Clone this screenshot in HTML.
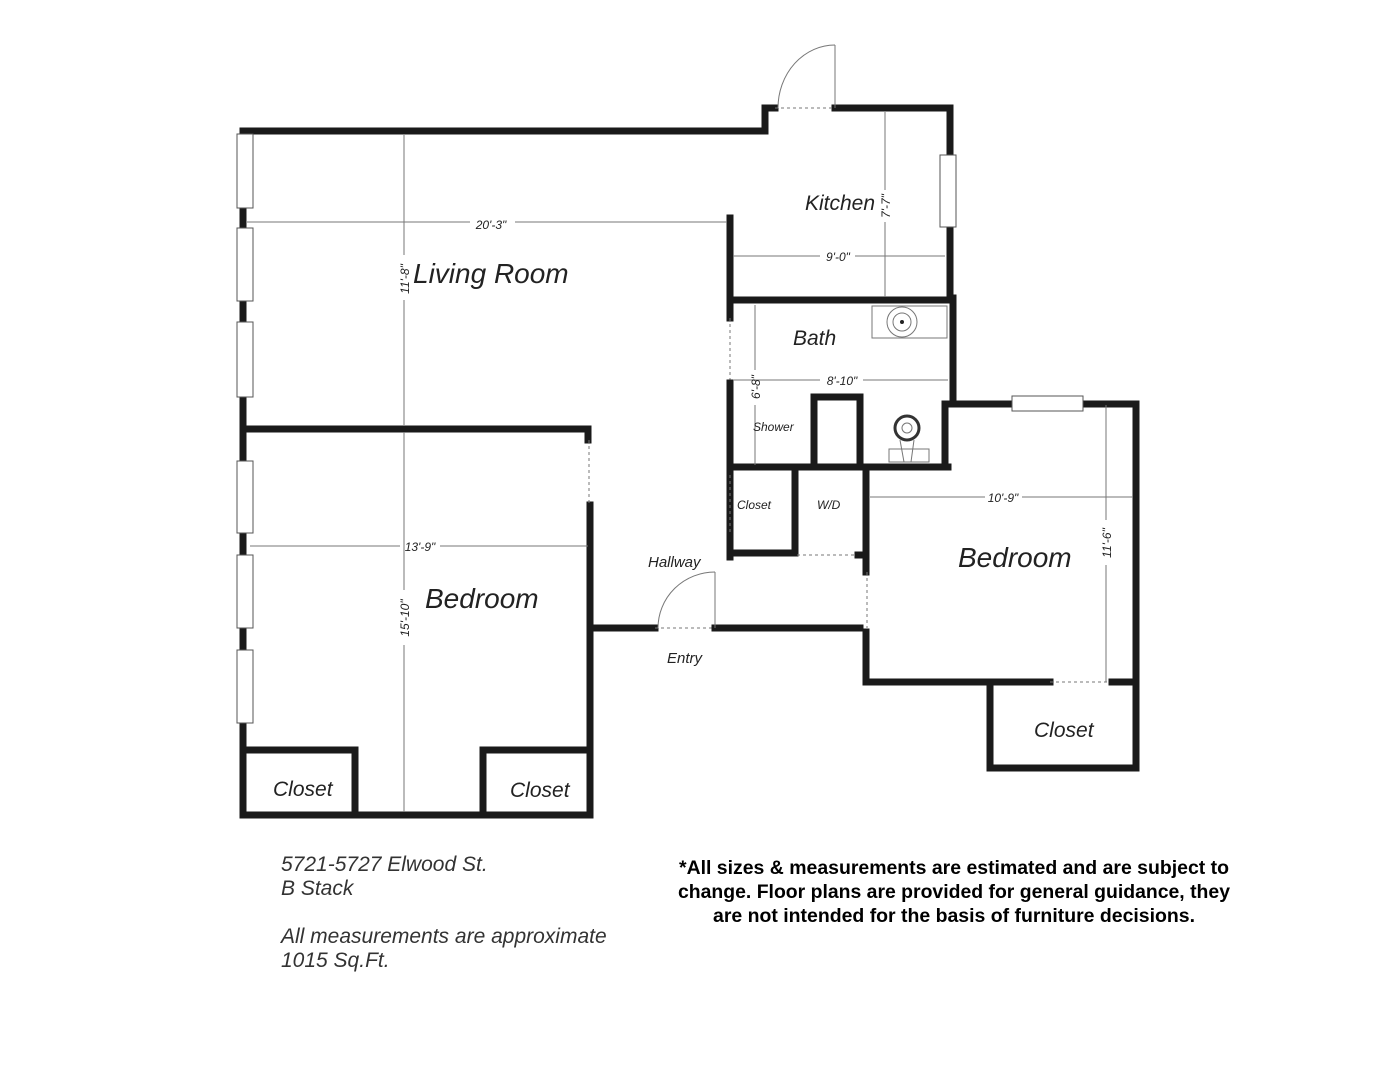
<!DOCTYPE html>
<html><head><meta charset="utf-8"><style>
html,body{margin:0;padding:0;background:#fff;}
svg{display:block;}
.w{stroke:#1a1a1a;stroke-width:7;fill:none;stroke-linecap:square;}
.d{stroke:#777;stroke-width:1;fill:none;}
.ds{stroke:#777;stroke-width:1;fill:none;stroke-dasharray:3,3;}
.win{fill:#fff;stroke:#555;stroke-width:1;}
text{font-family:"Liberation Sans",Arial,sans-serif;font-style:italic;fill:#222;}
.dim{font-size:12px;}
.sm{font-size:13px;}
.rm{font-size:28px;}
.md{font-size:21px;}
.info{font-size:21px;fill:#333;}
.b{font-family:"Liberation Sans Narrow","Liberation Sans",sans-serif;font-style:normal;font-weight:bold;font-size:19px;fill:#000;}
</style></head><body>
<svg width="1398" height="1080" viewBox="0 0 1398 1080" xmlns="http://www.w3.org/2000/svg">
<polyline class="w" points="243,131 765,131 765,108 775,108"/>
<polyline class="w" points="835,108 950,108 950,300"/>
<line class="ds" x1="775" y1="108" x2="835" y2="108"/>
<line class="d" x1="835" y1="45" x2="835" y2="108"/>
<path class="d" d="M835,45 A57,63 0 0 0 778,108"/>
<line class="w" x1="243" y1="131" x2="243" y2="815"/>
<polyline class="w" points="243,815 590,815 590,505"/>
<line class="w" x1="588" y1="429" x2="588" y2="440"/>
<line class="ds" x1="589" y1="440" x2="589" y2="505"/>
<line class="w" x1="243" y1="429" x2="588" y2="429"/>
<polyline class="w" points="243,750 355,750 355,815"/>
<polyline class="w" points="590,750 483,750 483,815"/>
<line class="w" x1="590" y1="628" x2="655" y2="628"/>
<line class="ds" x1="655" y1="628" x2="715" y2="628"/>
<line class="w" x1="715" y1="628" x2="860" y2="628"/>
<line class="d" x1="715" y1="572" x2="715" y2="628"/>
<path class="d" d="M715,572 A57,56 0 0 0 658,628"/>
<line class="w" x1="730" y1="218" x2="730" y2="318"/>
<line class="ds" x1="730" y1="318" x2="730" y2="383"/>
<line class="w" x1="730" y1="300" x2="953" y2="300"/>
<line class="w" x1="953" y1="298" x2="953" y2="404"/>
<line class="w" x1="730" y1="383" x2="730" y2="557"/>
<line class="w" x1="730" y1="467" x2="948" y2="467"/>
<line class="w" x1="945" y1="404" x2="945" y2="467"/>
<polyline class="w" points="814,467 814,397 860,397 860,467"/>
<line class="ds" x1="730" y1="475" x2="730" y2="538"/>
<polyline class="w" points="730,538 730,553 795,553 795,470"/>
<line class="ds" x1="797" y1="555" x2="858" y2="555"/>
<line class="w" x1="858" y1="555" x2="866" y2="555"/>
<line class="w" x1="948" y1="404" x2="1136" y2="404"/>
<line class="w" x1="1136" y1="404" x2="1136" y2="768"/>
<line class="w" x1="866" y1="470" x2="866" y2="572"/>
<line class="ds" x1="867" y1="572" x2="867" y2="628"/>
<polyline class="w" points="866,632 866,682 1050,682"/>
<line class="ds" x1="1050" y1="682" x2="1112" y2="682"/>
<line class="w" x1="1112" y1="682" x2="1136" y2="682"/>
<polyline class="w" points="990,682 990,768 1136,768"/>
<rect class="win" x="237" y="134" width="16" height="74"/>
<rect class="win" x="237" y="228" width="16" height="73"/>
<rect class="win" x="237" y="322" width="16" height="75"/>
<rect class="win" x="237" y="461" width="16" height="72"/>
<rect class="win" x="237" y="555" width="16" height="73"/>
<rect class="win" x="237" y="650" width="16" height="73"/>
<rect class="win" x="940" y="155" width="16" height="72"/>
<rect class="win" x="1012" y="396" width="71" height="15"/>
<rect class="d" x="872" y="306" width="75" height="32"/>
<circle class="d" cx="902" cy="322" r="15"/>
<circle class="d" cx="902" cy="322" r="9"/>
<circle cx="902" cy="322" r="2" fill="#222"/>
<circle cx="907" cy="428" r="12" fill="none" stroke="#333" stroke-width="3"/>
<circle class="d" cx="907" cy="428" r="5"/>
<rect class="d" x="889" y="449" width="40" height="13"/>
<path class="d" d="M900,440 L904,462 L911,462 L914,440"/>
<line class="d" x1="247" y1="222" x2="470" y2="222"/><line class="d" x1="515" y1="222" x2="727" y2="222"/>
<line class="d" x1="404" y1="135" x2="404" y2="255"/><line class="d" x1="404" y1="300" x2="404" y2="425"/>
<line class="d" x1="250" y1="546" x2="400" y2="546"/><line class="d" x1="440" y1="546" x2="588" y2="546"/>
<line class="d" x1="404" y1="432" x2="404" y2="590"/><line class="d" x1="404" y1="645" x2="404" y2="812"/>
<line class="d" x1="885" y1="112" x2="885" y2="190"/><line class="d" x1="885" y1="222" x2="885" y2="297"/>
<line class="d" x1="733" y1="256" x2="820" y2="256"/><line class="d" x1="855" y1="256" x2="945" y2="256"/>
<line class="d" x1="733" y1="380" x2="820" y2="380"/><line class="d" x1="863" y1="380" x2="948" y2="380"/>
<line class="d" x1="755" y1="305" x2="755" y2="370"/><line class="d" x1="755" y1="405" x2="755" y2="465"/>
<line class="d" x1="870" y1="497" x2="985" y2="497"/><line class="d" x1="1022" y1="497" x2="1133" y2="497"/>
<line class="d" x1="1106" y1="405" x2="1106" y2="520"/><line class="d" x1="1106" y1="565" x2="1106" y2="682"/>
<text class="dim" x="491" y="229" text-anchor="middle">20'-3"</text>
<text class="dim" transform="translate(409,279) rotate(-90)" text-anchor="middle">11'-8"</text>
<text class="rm" x="413" y="283">Living Room</text>
<text class="dim" x="420" y="551" text-anchor="middle">13'-9"</text>
<text class="dim" transform="translate(409,618) rotate(-90)" text-anchor="middle">15'-10"</text>
<text class="rm" x="425" y="608">Bedroom</text>
<text class="md" x="273" y="796">Closet</text>
<text class="md" x="510" y="797">Closet</text>
<text class="md" x="805" y="210">Kitchen</text>
<text class="dim" transform="translate(890,206) rotate(-90)" text-anchor="middle">7'-7"</text>
<text class="dim" x="838" y="261" text-anchor="middle">9'-0"</text>
<text class="md" x="793" y="345">Bath</text>
<text class="dim" x="842" y="385" text-anchor="middle">8'-10"</text>
<text class="dim" transform="translate(760,387) rotate(-90)" text-anchor="middle">6'-8"</text>
<text class="dim" x="753" y="431">Shower</text>
<text class="dim" x="737" y="509">Closet</text>
<text class="dim" x="817" y="509">W/D</text>
<text class="sm" x="648" y="567" style="font-size:15px">Hallway</text>
<text class="sm" x="667" y="663" style="font-size:15px">Entry</text>
<text class="dim" x="1003" y="502" text-anchor="middle">10'-9"</text>
<text class="dim" transform="translate(1111,543) rotate(-90)" text-anchor="middle">11'-6"</text>
<text class="rm" x="958" y="567">Bedroom</text>
<text class="md" x="1034" y="737">Closet</text>
<text class="info" x="281" y="871">5721-5727 Elwood St.</text>
<text class="info" x="281" y="895">B Stack</text>
<text class="info" x="281" y="943">All measurements are approximate</text>
<text class="info" x="281" y="967">1015 Sq.Ft.</text>
<text class="b" x="954" y="874" text-anchor="middle" textLength="550" lengthAdjust="spacingAndGlyphs">*All sizes &amp; measurements are estimated and are subject to</text>
<text class="b" x="954" y="898" text-anchor="middle" textLength="552" lengthAdjust="spacingAndGlyphs">change. Floor plans are provided for general guidance, they</text>
<text class="b" x="954" y="922" text-anchor="middle" textLength="482" lengthAdjust="spacingAndGlyphs">are not intended for the basis of furniture decisions.</text>
</svg>
</body></html>
